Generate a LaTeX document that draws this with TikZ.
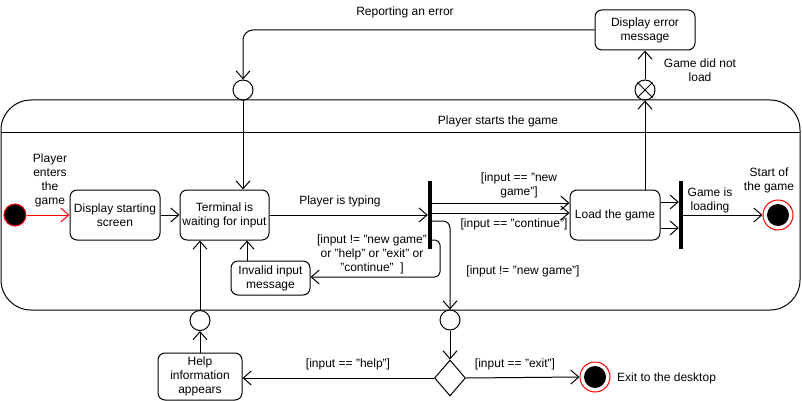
\documentclass[tikz,border=0pt]{standalone}
\usepackage{fontspec}
\setmainfont{Liberation Sans}
\usetikzlibrary{arrows.meta,shapes.geometric}
\begin{document}
\begin{tikzpicture}[x=1pt,y=-1pt, font=\fontsize{12}{14}\selectfont,
 act/.style={draw, rounded corners=7pt, line width=1pt, align=center, inner sep=0pt},
 lbl/.style={align=center, inner sep=0pt},
 arr/.style={-{Straight Barb[length=8pt,width=14pt,line width=1pt]}, line width=1pt},
 forkbar/.style={fill=black, inner sep=0pt, minimum width=4pt, minimum height=68pt},
 junc/.style={circle, draw, line width=1pt, minimum size=20pt, inner sep=0pt},
]
\useasboundingbox (0,0) rectangle (802,401);
% container
\draw[line width=1pt, rounded corners=30pt] (1,100) rectangle (800,310);
\draw[line width=1pt] (1,132) -- (800,132);
\node[lbl] (title) at (498,121) {Player starts the game};

% activities
\node[act, minimum width=90pt, minimum height=50pt] (start) at (115,215) {Display starting\\screen};
\node[act, minimum width=89pt, minimum height=50pt] (term) at (224.5,215) {Terminal is\\waiting for input};
\node[act, minimum width=79pt, minimum height=34pt] (invalid) at (270.5,278) {Invalid input\\message};
\node[act, minimum width=100pt, minimum height=40pt] (err) at (645,30) {Display error\\message};
\node[act, minimum width=90pt, minimum height=50pt] (load) at (615,215) {Load the game};
\node[act, minimum width=84pt, minimum height=47pt] (help) at (200,376.5) {Help\\information\\appears};

% junctions
\node[junc] (j1) at (243,90) {};
\node[junc] (xc) at (645,90) {};
\draw[line width=1pt] (xc.north east) -- (xc.south west) (xc.north west) -- (xc.south east);
\node[junc] (jhelp) at (200,320.5) {};
\node[junc] (jdec) at (450,320) {};
\node[diamond, draw, line width=1pt, minimum width=31pt, minimum height=36pt, inner sep=0pt] (dec) at (450,378) {};

% bars
\node[forkbar] (fork1) at (430,215) {};
\node[forkbar] (fork2) at (681,215) {};

% initial and finals
\node[circle, draw=red, fill=black, line width=1pt, minimum size=22pt, inner sep=0pt] (init) at (15,215) {};
\node[circle, draw=red, fill=white, line width=1pt, minimum size=30pt, inner sep=0pt] (fin1) at (778,215) {};
\node[circle, fill=black, minimum size=22pt, inner sep=0pt] (fin1in) at (778,215) {};
\node[circle, draw=red, fill=white, line width=1pt, minimum size=30pt, inner sep=0pt] (fin2) at (595,377) {};
\node[circle, fill=black, minimum size=22pt, inner sep=0pt] (fin2in) at (595,377) {};

% edges
\draw[arr, draw=red] (init) -- (start.west);
\draw[arr] (start) -- (term);
\draw[arr] (term.east) -- (term.east -| fork1.west);
\draw[arr] (fork1.east |- 0,203) -- (load.west |- 0,203);
\draw[arr] (fork1.east |- 0,213) -- (load.west |- 0,213);
\draw[arr] (load.east |- 0,202) -- (fork2.west |- 0,202);
\draw[arr] (load.east |- 0,228) -- (fork2.west |- 0,228);
\draw[arr] (fork2.east |- fin1.west) -- (fin1.west);
\draw[arr] (load.north -| xc.south) -- (xc.south);
\draw[arr] (xc.north) -- (err.south -| xc.north);
\draw[arr, rounded corners=10pt] (err.west) -| (j1.north);
\draw[arr] (j1.south) -- (j1.south |- term.north);
\draw[arr, rounded corners=7pt] (fork1.east |- 0,221) -| (jdec.north);
\draw[arr, rounded corners=5pt] (fork1.east |- 0,240) -- (440,240) -- (440,277) -- (invalid.east |- 0,277);
\draw[arr] ([xshift=-23.5pt]invalid.north) -- ([xshift=-23.5pt]invalid.north |- term.south);
\draw[arr] (jhelp.north) -- (jhelp.north |- term.south);
\draw[arr] (help.north) -- (jhelp.south);
\draw[arr] (jdec.south) -- (dec.north);
\draw[arr] (dec.west) -- (dec.west -| help.east);
\draw[arr] (dec.east) -- (fin2.west);

% labels
\node[lbl] (lrep) at (405,12) {Reporting an error};
\node[lbl] (lgdnl) at (700,70) {Game did not\\load};
\node[lbl] (lenter) at (50,180.5) {Player\\enters\\the\\game};
\node[lbl] (ltyping) at (340,201) {Player is typing};
\node[lbl] (lnew) at (519,185) {[input == "new\\game"]};
\node[lbl] (lcont) at (514,224) {[input == "continue"]};
\node[lbl] (linv) at (372,254) {[input != "new game"\\or "help" or "exit" or\\"continue"\ \ ]};
\node[lbl] (lnotnew) at (523,271) {[input != "new game"]};
\node[lbl] (lload) at (710,200.5) {Game is\\loading};
\node[lbl] (lsog) at (769,180.5) {Start of\\the game};
\node[lbl] (lhelp) at (348,364) {[input == "help"]};
\node[lbl] (lexit) at (515,364) {[input == "exit"]};
\node[lbl, anchor=west] (ldesk) at (617,378) {Exit to the desktop};
\end{tikzpicture}
\end{document}
